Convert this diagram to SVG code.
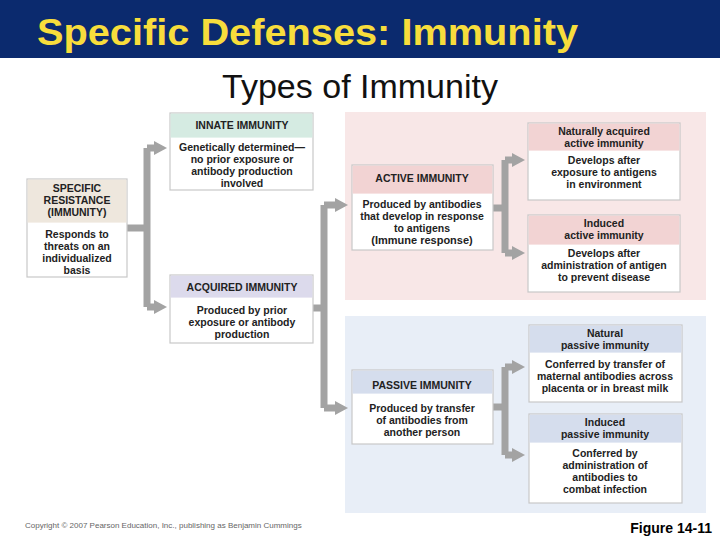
<svg xmlns="http://www.w3.org/2000/svg" width="720" height="540" viewBox="0 0 720 540">
<style>
text{font-family:"Liberation Sans",Arial,sans-serif;text-anchor:middle;fill:#222}
.b{font-size:10.5px;font-weight:bold}
.h{font-size:10.5px;font-weight:bold}
.box{fill:#fff;stroke:#c8c8c8;stroke-width:1.2}
.c{fill:none;stroke:#a3a3a3;stroke-width:7}
</style>
<defs>
<marker id="ar" markerUnits="userSpaceOnUse" markerWidth="14" markerHeight="16" refX="2" refY="8" orient="auto">
<path d="M0,1 L13,8 L0,15 Z" fill="#a3a3a3"/>
</marker>
</defs>
<rect x="0" y="0" width="720" height="58" fill="#0b2a6e"/>
<text x="37" y="45" textLength="541" lengthAdjust="spacingAndGlyphs" style="text-anchor:start;font-size:37px;font-weight:bold;fill:#f7dd3c">Specific Defenses: Immunity</text>
<text x="360" y="98" style="font-size:34px;fill:#111">Types of Immunity</text>
<rect x="345" y="112" width="361" height="188" fill="#f8e7e7"/>
<rect x="345" y="316" width="361" height="197" fill="#e8eef7"/>
<g id="connectors">
<path class="c" d="M127,228 H147 M147,148 V307 M147,307 H156" marker-end="url(#ar)"/>
<path class="c" d="M147,148 H156" marker-end="url(#ar)"/>
<path class="c" d="M313,308 H324 M324,205 V408"/>
<path class="c" d="M324,205 H337" marker-end="url(#ar)"/>
<path class="c" d="M324,408 H337" marker-end="url(#ar)"/>
<path class="c" d="M493,208 H505 M505,160 V253"/>
<path class="c" d="M505,160 H514" marker-end="url(#ar)"/>
<path class="c" d="M505,253 H514" marker-end="url(#ar)"/>
<path class="c" d="M493,407 H505 M505,367 V455"/>
<path class="c" d="M505,367 H514" marker-end="url(#ar)"/>
<path class="c" d="M505,455 H514" marker-end="url(#ar)"/>
</g>
<g id="specific">
<rect class="box" x="27" y="179" width="100" height="98"/>
<rect x="27.6" y="179.6" width="98.8" height="43" fill="#eee7dd"/>
<text class="h" x="77" y="192">SPECIFIC</text><text class="h" x="77" y="204">RESISTANCE</text><text class="h" x="77" y="216">(IMMUNITY)</text>
<text class="b" x="77" y="238">Responds to</text><text class="b" x="77" y="250">threats on an</text><text class="b" x="77" y="262">individualized</text><text class="b" x="77" y="274">basis</text>
</g>
<g id="innate">
<rect class="box" x="170" y="113" width="143" height="77"/>
<rect x="170.6" y="113.6" width="141.8" height="24" fill="#d5ebe2"/>
<text class="h" x="242" y="129">INNATE IMMUNITY</text>
<text class="b" x="242" y="151">Genetically determined—</text><text class="b" x="242" y="163">no prior exposure or</text><text class="b" x="242" y="175">antibody production</text><text class="b" x="242" y="187">involved</text>
</g>
<g id="acquired">
<rect class="box" x="170" y="275" width="143" height="68"/>
<rect x="170.6" y="275.6" width="141.8" height="22" fill="#dcdaec"/>
<text class="h" x="242" y="291">ACQUIRED IMMUNITY</text>
<text class="b" x="242" y="314">Produced by prior</text><text class="b" x="242" y="326">exposure or antibody</text><text class="b" x="242" y="338">production</text>
</g>
<g id="active">
<rect class="box" x="352" y="165" width="141" height="85"/>
<rect x="352.6" y="165.6" width="139.8" height="28" fill="#f2d3d3"/>
<text class="h" x="422" y="182">ACTIVE IMMUNITY</text>
<text class="b" x="422" y="208">Produced by antibodies</text><text class="b" x="422" y="220">that develop in response</text><text class="b" x="422" y="232">to antigens</text><text class="b" x="422" y="244" style="font-size:11px">(Immune response)</text>
</g>
<g id="natural-active">
<rect class="box" x="528" y="123" width="152" height="77"/>
<rect x="528.6" y="123.6" width="150.8" height="27" fill="#f2d3d3"/>
<text class="b" x="604" y="135">Naturally acquired</text><text class="b" x="604" y="147">active immunity</text>
<text class="b" x="604" y="164">Develops after</text><text class="b" x="604" y="176">exposure to antigens</text><text class="b" x="604" y="188">in environment</text>
</g>
<g id="induced-active">
<rect class="box" x="528" y="215" width="152" height="77"/>
<rect x="528.6" y="215.6" width="150.8" height="29" fill="#f2d3d3"/>
<text class="b" x="604" y="227">Induced</text><text class="b" x="604" y="239">active immunity</text>
<text class="b" x="604" y="257">Develops after</text><text class="b" x="604" y="269">administration of antigen</text><text class="b" x="604" y="281">to prevent disease</text>
</g>
<g id="passive">
<rect class="box" x="352" y="370" width="141" height="74"/>
<rect x="352.6" y="370.6" width="139.8" height="23" fill="#d5dded"/>
<text class="h" x="422" y="389">PASSIVE IMMUNITY</text>
<text class="b" x="422" y="412">Produced by transfer</text><text class="b" x="422" y="424">of antibodies from</text><text class="b" x="422" y="436">another person</text>
</g>
<g id="natural-passive">
<rect class="box" x="529" y="325" width="153" height="77"/>
<rect x="529.6" y="325.6" width="151.8" height="27" fill="#d5dded"/>
<text class="b" x="605" y="337">Natural</text><text class="b" x="605" y="349">passive immunity</text>
<text class="b" x="605" y="368">Conferred by transfer of</text><text class="b" x="605" y="380">maternal antibodies across</text><text class="b" x="605" y="392">placenta or in breast milk</text>
</g>
<g id="induced-passive">
<rect class="box" x="529" y="414" width="153" height="89"/>
<rect x="529.6" y="414.6" width="151.8" height="28" fill="#d5dded"/>
<text class="b" x="605" y="426">Induced</text><text class="b" x="605" y="438">passive immunity</text>
<text class="b" x="605" y="457">Conferred by</text><text class="b" x="605" y="469">administration of</text><text class="b" x="605" y="481">antibodies to</text><text class="b" x="605" y="493">combat infection</text>
</g>
<text x="25" y="528" style="text-anchor:start;font-size:8px;fill:#666">Copyright © 2007 Pearson Education, Inc., publishing as Benjamin Cummings</text>
<text x="712" y="533" style="text-anchor:end;font-size:14px;font-weight:bold;fill:#000">Figure 14-11</text>
</svg>
